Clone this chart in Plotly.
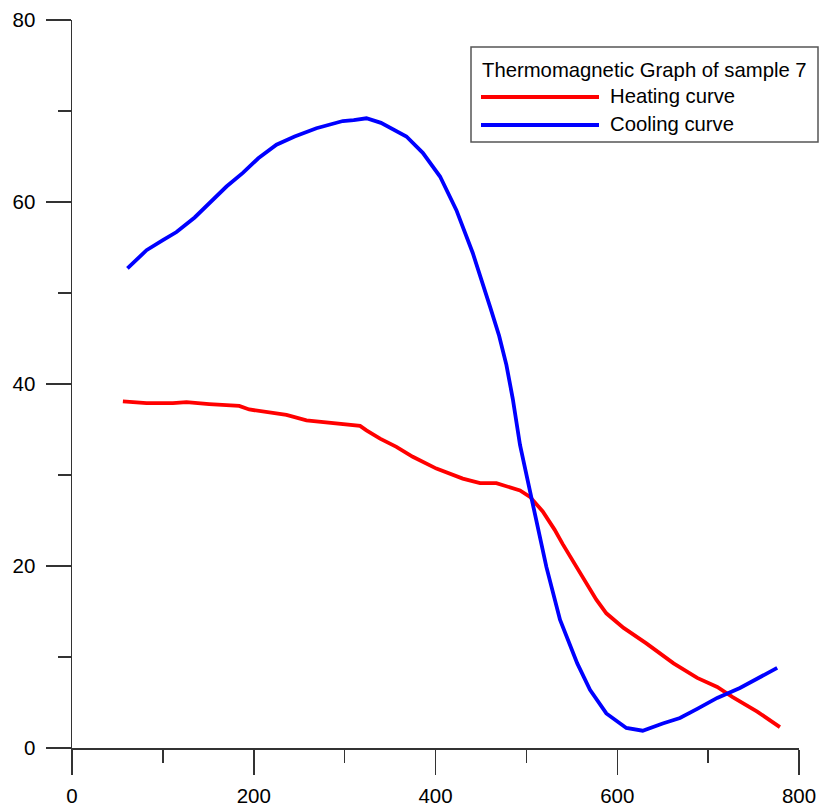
import plotly.graph_objects as go

# Data
heat_x = [56, 70, 82, 111, 126, 151, 184, 195, 214, 236, 258, 287, 317, 324, 339, 357, 375,
          401, 430, 449, 467, 493, 504, 518, 531, 540, 551, 559, 570, 577, 588, 607, 632,
          662, 688, 710, 727, 754, 779]
heat_y = [38.1, 38.0, 37.9, 37.9, 38.0, 37.8, 37.6, 37.2, 36.9, 36.6, 36.0, 35.7, 35.4, 34.9,
          34.0, 33.1, 32.0, 30.7, 29.6, 29.1, 29.1, 28.3, 27.6, 26.0, 24.0, 22.4, 20.6, 19.3,
          17.4, 16.3, 14.8, 13.2, 11.5, 9.3, 7.7, 6.7, 5.6, 4.0, 2.3]

cool_x = [61, 70, 82, 100, 115, 135, 155, 170, 188, 205, 225, 245, 269, 285, 298, 310, 324,
          340, 350, 368, 386, 405, 423, 441, 460, 470, 478, 485, 493, 507, 522, 537, 556, 570,
          588, 610, 628, 650, 669, 688, 710, 735, 754, 776]
cool_y = [52.7, 53.5, 54.7, 55.8, 56.7, 58.3, 60.2, 61.7, 63.2, 64.8, 66.3, 67.2, 68.1, 68.5,
          68.9, 69.0, 69.2, 68.7, 68.2, 67.2, 65.4, 62.8, 59.1, 54.4, 48.5, 45.3, 42.1, 38.4,
          33.3, 26.6, 19.9, 14.1, 9.3, 6.4, 3.8, 2.2, 1.9, 2.7, 3.3, 4.3, 5.5, 6.6, 7.6, 8.8]

legend_title = "Thermomagnetic Graph of sample 7"
series_names = ["Heating curve", "Cooling curve"]
series_colors = ["#ff0000", "#0000ff"]

W, H = 821, 812
# plot area in page pixels: x 72..799, y 20..748
ML, MT = 72, 20
MR, MB = W - 799, H - 748
PW, PH = W - ML - MR, H - MT - MB
FONT = "Liberation Sans, Arial, sans-serif"


def px_x(p):
    return (p - ML) / PW


def px_y(p):
    return (H - MB - p) / PH


fig = go.Figure()
fig.add_trace(go.Scatter(x=heat_x, y=heat_y, mode="lines", name=series_names[0],
                         line=dict(color=series_colors[0], width=3.8), showlegend=False))
fig.add_trace(go.Scatter(x=cool_x, y=cool_y, mode="lines", name=series_names[1],
                         line=dict(color=series_colors[1], width=3.8), showlegend=False))

axis_common = dict(
    showgrid=False, zeroline=False, showline=True, linecolor="#333333", linewidth=1.5,
    ticks="outside", ticklen=25, tickwidth=1.5, tickcolor="#333333", automargin=False,
    tickfont=dict(family=FONT, size=20.5, color="#000000"),
)
fig.update_xaxes(range=[0, 800], dtick=200, tick0=0,
                 minor=dict(dtick=100, ticklen=13, tickwidth=1.5, tickcolor="#333333", ticks="outside"),
                 ticklabelstandoff=4, **axis_common)
fig.update_yaxes(range=[0, 80], dtick=20, tick0=0,
                 minor=dict(dtick=10, ticklen=13, tickwidth=1.5, tickcolor="#333333", ticks="outside"),
                 ticklabelstandoff=6, **axis_common)

# Manual legend box
shapes = [dict(type="rect", xref="paper", yref="paper",
               x0=px_x(471), x1=px_x(818), y0=px_y(142), y1=px_y(47),
               line=dict(color="#555555", width=1.5), fillcolor="rgba(0,0,0,0)")]
row_y = [97, 125]
for c, ry in zip(series_colors, row_y):
    shapes.append(dict(type="line", xref="paper", yref="paper",
                       x0=px_x(481), x1=px_x(599), y0=px_y(ry), y1=px_y(ry),
                       line=dict(color=c, width=4)))

annotations = [dict(text=legend_title, xref="paper", yref="paper", x=px_x(480), y=px_y(70),
                    xanchor="left", yanchor="middle", showarrow=False,
                    font=dict(family=FONT, size=20.3, color="#000000"))]
for n, ry in zip(series_names, row_y):
    annotations.append(dict(text=n, xref="paper", yref="paper", x=px_x(608), y=px_y(ry - 1),
                            xanchor="left", yanchor="middle", showarrow=False,
                            font=dict(family=FONT, size=20.3, color="#000000")))

fig.update_layout(
    width=W, height=H, autosize=False,
    margin=dict(l=ML, r=MR, t=MT, b=MB),
    paper_bgcolor="#ffffff", plot_bgcolor="#ffffff",
    shapes=shapes, annotations=annotations, showlegend=False,
)

fig.write_html("out.html", config={"displayModeBar": False, "staticPlot": True},
               post_script="document.body.style.margin='0';document.body.style.overflow='hidden';")
